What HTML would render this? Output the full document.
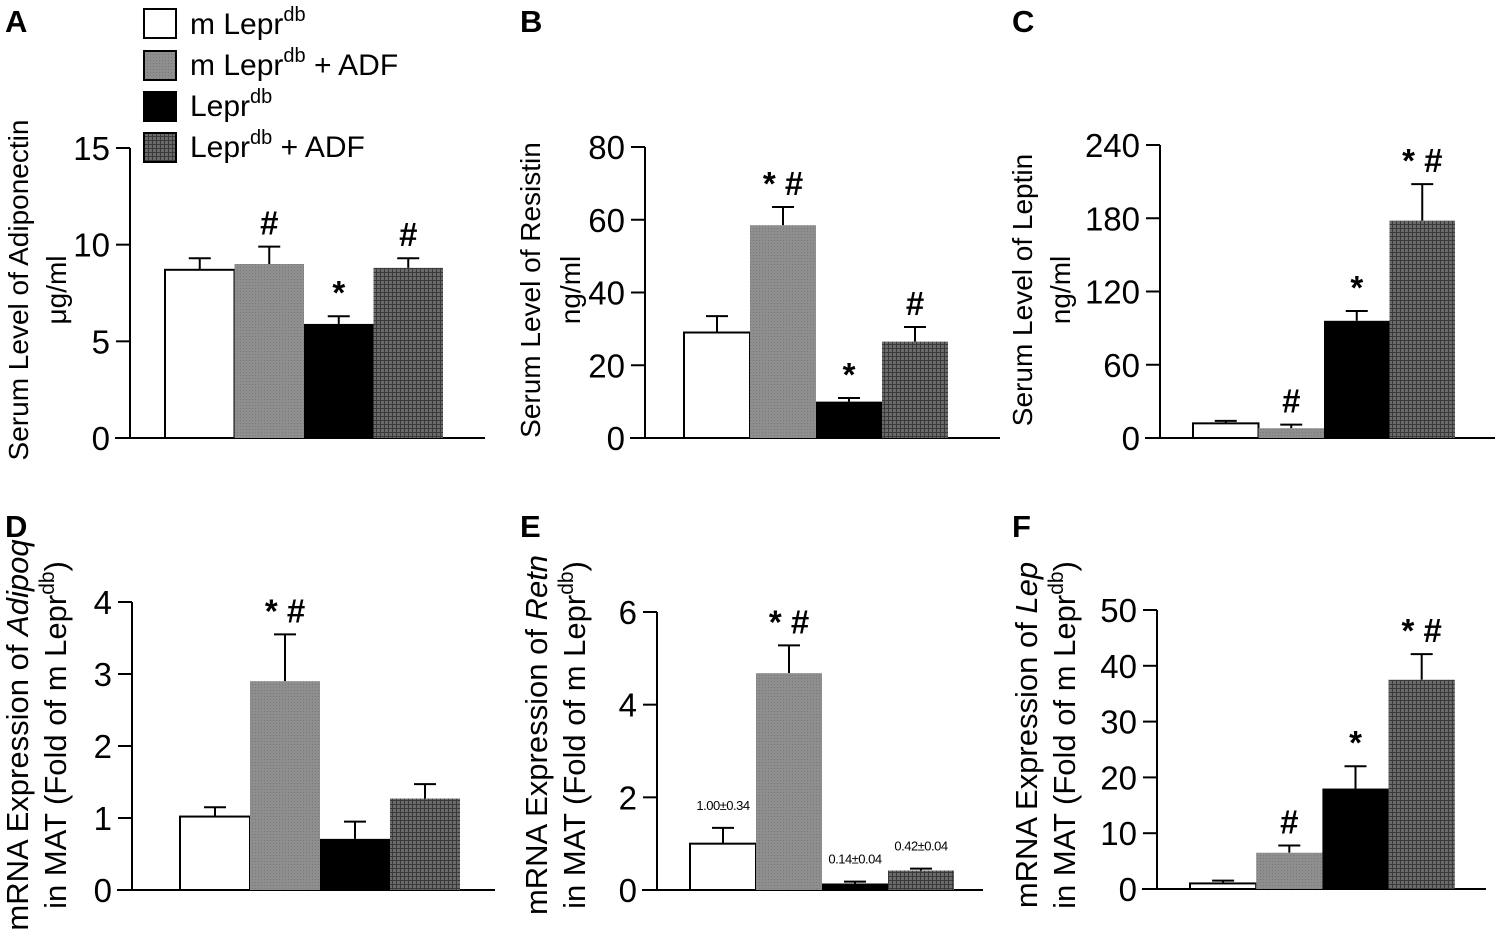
<!DOCTYPE html>
<html><head><meta charset="utf-8"><style>
html,body{margin:0;padding:0;background:#fff;}
svg{display:block;font-family:"Liberation Sans",sans-serif;}
</style></head><body>
<svg id="fig" width="1500" height="950" viewBox="0 0 1500 950">
<defs>
<pattern id="grayPat" width="3" height="3" patternUnits="userSpaceOnUse"><rect width="3" height="3" fill="#8e8e8e"/><rect width="1" height="1" fill="#7a7a7a"/></pattern>
<pattern id="checkPat" width="4" height="4" patternUnits="userSpaceOnUse"><rect width="4" height="4" fill="#6a6a6a"/><rect width="4" height="1" fill="#3a3a3a"/><rect width="1" height="4" fill="#3a3a3a"/></pattern>
</defs>
<g id="legend">
<g><rect x="144" y="9" width="32" height="29" fill="#fff" stroke="#000" stroke-width="2"/><text x="190" y="34" font-size="30">m Lepr<tspan font-size="20" dy="-13">db</tspan></text></g>
<g><rect x="144" y="51" width="32" height="29" fill="url(#grayPat)" stroke="#000" stroke-width="2"/><text x="190" y="75" font-size="30">m Lepr<tspan font-size="20" dy="-13">db</tspan><tspan dy="13"> + ADF</tspan></text></g>
<g><rect x="144" y="92" width="32" height="29" fill="#000" stroke="#000" stroke-width="2"/><text x="190" y="116" font-size="30">Lepr<tspan font-size="20" dy="-13">db</tspan></text></g>
<g><rect x="144" y="133" width="32" height="29" fill="url(#checkPat)" stroke="#000" stroke-width="2"/><text x="190" y="157" font-size="30">Lepr<tspan font-size="20" dy="-13">db</tspan><tspan dy="13"> + ADF</tspan></text></g>
</g>
</svg>
<script>
const groups = ["m Lepr db","m Lepr db + ADF","Lepr db","Lepr db + ADF"];
const adipoVals = [8.7, 9.0, 5.9, 8.8];
const adipoErr = [0.6, 0.9, 0.4, 0.5];
const adipoTicks = [0, 5, 10, 15];
const adipoSig = ["", "#", "*", "#"];
const resisVals = [29, 58.5, 10, 26.5];
const resisErr = [4.5, 5, 1, 4];
const resisTicks = [0, 20, 40, 60, 80];
const resisSig = ["", "* #", "*", "#"];
const leptVals = [12, 8, 96, 178];
const leptErr = [2, 3, 8, 30];
const leptTicks = [0, 60, 120, 180, 240];
const leptSig = ["", "#", "*", "* #"];
const adipoqVals = [1.02, 2.9, 0.71, 1.27];
const adipoqErr = [0.13, 0.65, 0.24, 0.2];
const adipoqTicks = [0, 1, 2, 3, 4];
const adipoqSig = ["", "* #", "", ""];
const retnVals = [1.0, 4.68, 0.14, 0.42];
const retnErr = [0.34, 0.6, 0.04, 0.04];
const retnTicks = [0, 2, 4, 6];
const retnSig = ["", "* #", "", ""];
const retnNotes = ["1.00±0.34", "", "0.14±0.04", "0.42±0.04"];
const lepVals = [1, 6.5, 18, 37.5];
const lepErr = [0.5, 1.3, 4, 4.6];
const lepTicks = [0, 10, 20, 30, 40, 50];
const lepSig = ["", "#", "*", "* #"];

const NS = "http://www.w3.org/2000/svg";
const svg = document.getElementById('fig');
const fills = ["#fff", "url(#grayPat)", "#000", "url(#checkPat)"];
function mk(tag, attrs, parent) {
  const e = document.createElementNS(NS, tag);
  for (const k in attrs) e.setAttribute(k, attrs[k]);
  parent.appendChild(e);
  return e;
}
function panel(cfg) {
  const g = mk('g', {}, svg);
  
  
  const yS = v => cfg.y0 - (v / cfg.max) * (cfg.y0 - cfg.yTop);
  const lbl = mk('text', {x: cfg.lx, y: cfg.ly, 'font-size': 31, 'font-weight': 'bold'}, g);
  lbl.textContent = cfg.letter;
  
  
  const ya = mk('line', {x1: cfg.ax, x2: cfg.ax, y1: yS(cfg.max), y2: cfg.y0, stroke: '#000', 'stroke-width': 2}, g);
  
  
  const xa = mk('line', {x1: cfg.ax - 15, x2: cfg.xEnd, y1: cfg.y0, y2: cfg.y0, stroke: '#000', 'stroke-width': 2}, g);
  
  
  cfg.ticks.forEach(t => {
    const y = yS(t);
    mk('line', {x1: cfg.ax - 14, x2: cfg.ax, y1: y, y2: y, stroke: '#000', 'stroke-width': 2}, g);
    const tx = mk('text', {x: cfg.ax - 20, y: y + 12, 'font-size': 33, 'text-anchor': 'end'}, g);
    tx.textContent = t;
    
    
  });
  cfg.vals.forEach((v, i) => {
    const x = cfg.bx + i * cfg.bw;
    const top = yS(v), et = yS(v + cfg.err[i]), cx = x + cfg.bw / 2;
    const eb = mk('line', {x1: cx, x2: cx, y1: top, y2: et, stroke: '#000', 'stroke-width': 2}, g);
    
    
    mk('line', {x1: cx - 11, x2: cx + 11, y1: et, y2: et, stroke: '#000', 'stroke-width': 2}, g);
    const r = mk('rect', {x: x, y: top, width: cfg.bw, height: cfg.y0 - top, fill: fills[i], stroke: i === 0 ? '#000' : 'none', 'stroke-width': 2}, g);
    
    
    if (cfg.sig[i]) {
      const s = mk('text', {x: cx, y: et - 12, 'font-size': 33, 'font-weight': 'bold', 'text-anchor': 'middle'}, g);
      s.textContent = cfg.sig[i];
      
      
    }
    if (cfg.notes && cfg.notes[i]) {
      const n = mk('text', {x: cx, y: et - 18, 'font-size': 13, 'text-anchor': 'middle', 'letter-spacing': '-0.5'}, g);
      n.textContent = cfg.notes[i];
      
      
    }
  });
  cfg.titles.forEach((t, k) => {
    const tt = mk('text', {x: 0, y: 0, 'font-size': cfg.tfs, 'text-anchor': 'middle', transform: `translate(${t.x},${cfg.tcy}) rotate(-90)`}, g);
    tt.innerHTML = t.html;
    
    
  });
}
const sup = '<tspan font-size="21" dy="-12">db</tspan><tspan dy="12">)</tspan>';
panel({name:'panel-a-adiponectin', letter:'A', lx:5, ly:32, ax:130, y0:438, yTop:148, max:15, xEnd:485, bx:165, bw:69.5,
  vals:adipoVals, err:adipoErr, ticks:adipoTicks, sig:adipoSig, tcy:290, tfs:28,
  titles:[{x:28, html:'Serum Level of Adiponectin'},{x:66, html:'μg/ml'}]});
panel({name:'panel-b-resistin', letter:'B', lx:520, ly:32, ax:645, y0:438, yTop:147, max:80, xEnd:1000, bx:684, bw:66,
  vals:resisVals, err:resisErr, ticks:resisTicks, sig:resisSig, tcy:290, tfs:28,
  titles:[{x:540, html:'Serum Level of Resistin'},{x:580, html:'ng/ml'}]});
panel({name:'panel-c-leptin', letter:'C', lx:1012, ly:32, ax:1160, y0:438, yTop:145, max:240, xEnd:1495, bx:1193, bw:65.5,
  vals:leptVals, err:leptErr, ticks:leptTicks, sig:leptSig, tcy:290, tfs:28,
  titles:[{x:1032, html:'Serum Level of Leptin'},{x:1070, html:'ng/ml'}]});
panel({name:'panel-d-adipoq', letter:'D', lx:5, ly:537, ax:132, y0:890, yTop:602, max:4, xEnd:495, bx:180, bw:70,
  vals:adipoqVals, err:adipoqErr, ticks:adipoqTicks, sig:adipoqSig, tcy:735, tfs:31,
  titles:[{x:28, html:'mRNA Expression of <tspan font-style="italic">Adipoq</tspan>'},{x:66, html:'in MAT (Fold of m Lepr'+sup}]});
panel({name:'panel-e-retn', letter:'E', lx:520, ly:537, ax:657, y0:890, yTop:612, max:6, xEnd:983, bx:690, bw:66,
  vals:retnVals, err:retnErr, ticks:retnTicks, sig:retnSig, notes:retnNotes, tcy:735, tfs:31,
  titles:[{x:547, html:'mRNA Expression of <tspan font-style="italic">Retn</tspan>'},{x:585, html:'in MAT (Fold of m Lepr'+sup}]});
panel({name:'panel-f-lep', letter:'F', lx:1012, ly:537, ax:1157, y0:889, yTop:610, max:50, xEnd:1486, bx:1190, bw:66.2,
  vals:lepVals, err:lepErr, ticks:lepTicks, sig:lepSig, tcy:735, tfs:31,
  titles:[{x:1037, html:'mRNA Expression of <tspan font-style="italic">Lep</tspan>'},{x:1075, html:'in MAT (Fold of m Lepr'+sup}]});
</script>
</body></html>
